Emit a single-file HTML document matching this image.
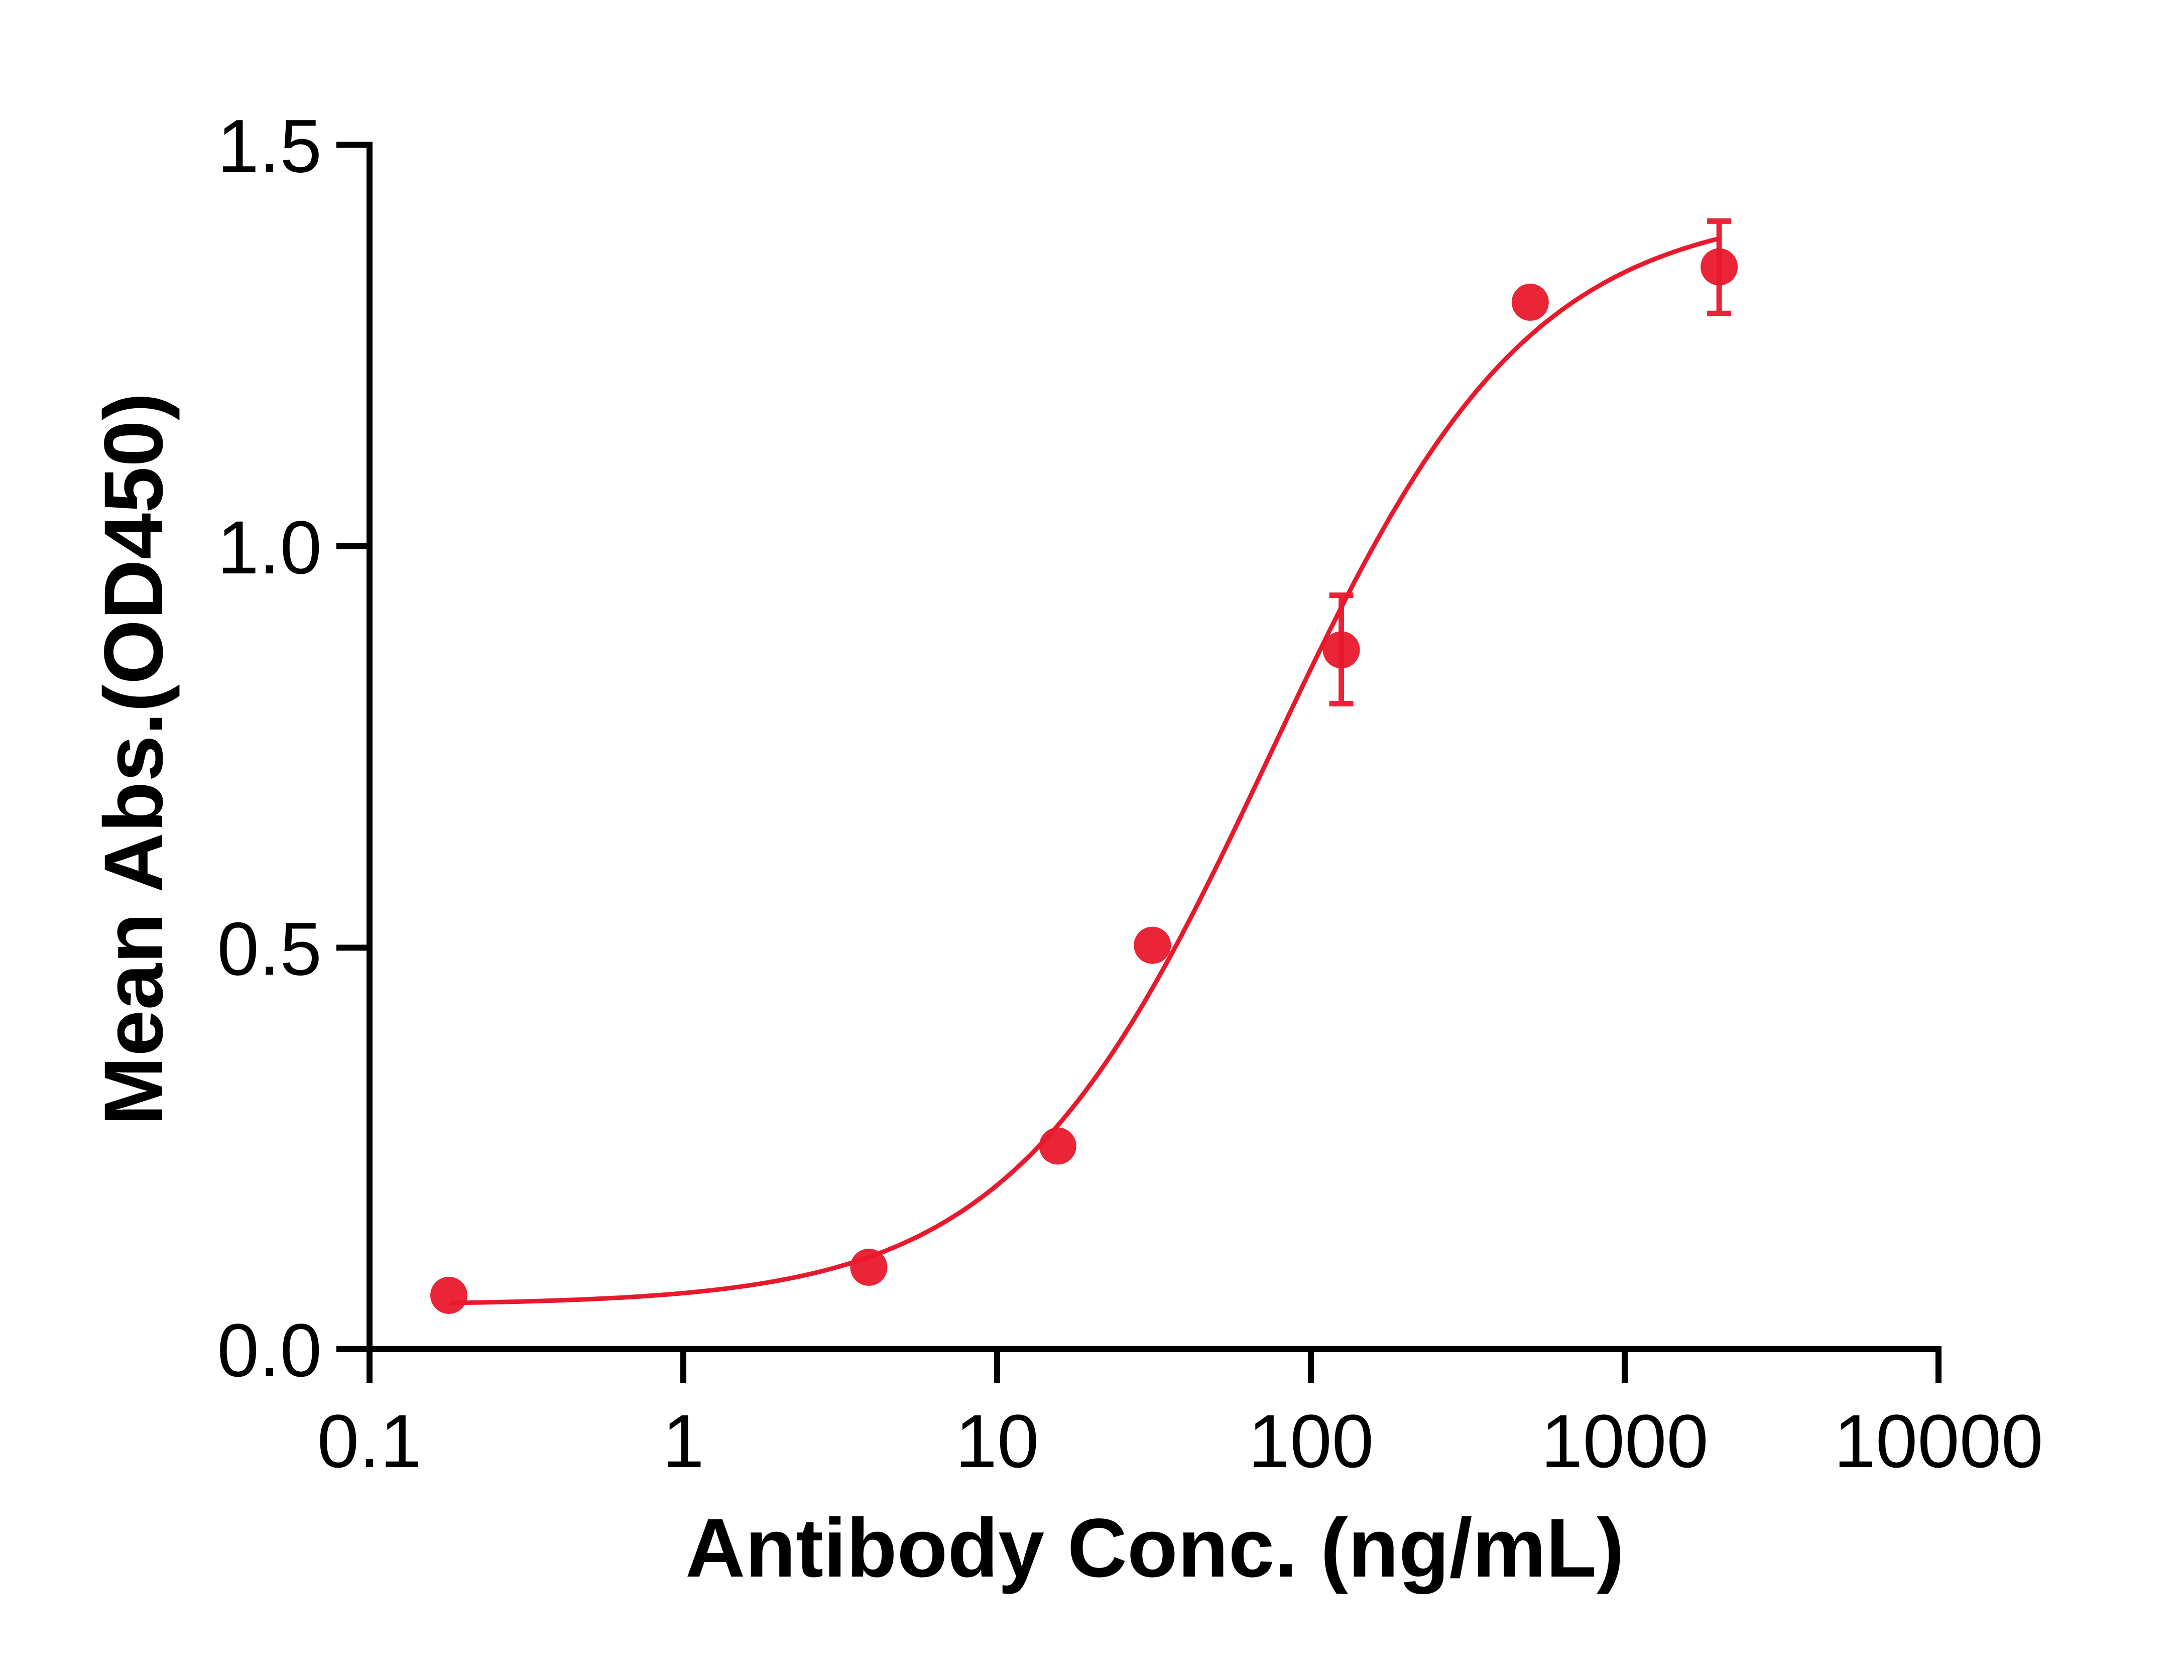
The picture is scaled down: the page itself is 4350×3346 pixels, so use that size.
<!DOCTYPE html>
<html><head><meta charset="utf-8"><style>html,body{margin:0;padding:0;background:#fff}svg{display:block}</style></head>
<body>
<svg id="chart" width="4350" height="3346" viewBox="0 0 4350 3346" xmlns="http://www.w3.org/2000/svg" font-family="Liberation Sans, Arial, sans-serif">
<rect width="4350" height="3346" fill="#fff"/>
<g id="axes"></g>
<g id="plot"></g>
<text x="2300" y="3140" font-size="166" font-weight="bold" text-anchor="middle" textLength="1870" lengthAdjust="spacingAndGlyphs">Antibody Conc. (ng/mL)</text>
<text transform="translate(323,1512) rotate(-90)" font-size="166" font-weight="bold" text-anchor="middle" textLength="1460" lengthAdjust="spacingAndGlyphs">Mean Abs.(OD450)</text>
</svg>
<script>
const concentrations = [0.179, 3.9, 15.6, 31.25, 125, 500, 2000];
const meanAbs = [0.067, 0.102, 0.253, 0.503, 0.871, 1.304, 1.348];
const errUpper = [0.067, 0.102, 0.253, 0.503, 0.939, 1.304, 1.405];
const errLower = [0.067, 0.102, 0.253, 0.503, 0.804, 1.304, 1.290];
const xTicks = [0.1, 1, 10, 100, 1000, 10000];
const xTickLabels = ["0.1", "1", "10", "100", "1000", "10000"];
const yTicks = [0, 0.5, 1.0, 1.5];
const yTickLabels = ["0.0", "0.5", "1.0", "1.5"];
const fitParams = [0.055, 1.425, 74, 1.05]; // bottom, top, EC50, hill

const NS = "http://www.w3.org/2000/svg";
const X0 = 736, DEC = 625, Y0 = 2687, YU = 1599;
function xs(v){ return X0 + (Math.log10(v) + 1) * DEC; }
function ys(v){ return Y0 - v * YU; }
function mk(tag, attrs, parent){ const e = document.createElementNS(NS, tag); for (const k in attrs) e.setAttribute(k, attrs[k]); parent.appendChild(e); return e; }

const axes = document.getElementById('axes');
const plot = document.getElementById('plot');
const xEnd = xs(xTicks[xTicks.length-1]), yTop = ys(yTicks[yTicks.length-1]);

let ax = mk('line', {x1: X0 - 6, y1: Y0, x2: xEnd + 6, y2: Y0, stroke: '#000', 'stroke-width': 12}, axes);


let ay = mk('line', {x1: X0, y1: Y0 + 6, x2: X0, y2: yTop - 6, stroke: '#000', 'stroke-width': 12}, axes);



xTicks.forEach((t, i) => {
  const x = xs(t);
  const tk = mk('line', {x1: x, y1: Y0, x2: x, y2: Y0 + 67, stroke: '#000', 'stroke-width': 12}, axes);
  
  
  const tl = mk('text', {x: x, y: 2922, 'font-size': 150, 'text-anchor': 'middle'}, axes);
  
  
  tl.textContent = xTickLabels[i];
});
yTicks.forEach((t, i) => {
  const y = ys(t);
  const tk = mk('line', {x1: X0 - 66, y1: y, x2: X0, y2: y, stroke: '#000', 'stroke-width': 12}, axes);
  
  
  const tl = mk('text', {x: 641, y: y + 54, 'font-size': 150, 'text-anchor': 'end'}, axes);
  
  
  tl.textContent = yTickLabels[i];
});

// fitted 4PL curve
function fit(c){ const [b, t, ec, h] = fitParams; const r = Math.pow(c/ec, h); return b + (t - b) * r / (1 + r); }
const lo = Math.log10(concentrations[0]), hi = Math.log10(concentrations[concentrations.length-1]);
let d = '';
for (let i = 0; i <= 300; i++) {
  const c = Math.pow(10, lo + (hi - lo) * i / 300);
  d += (i ? 'L' : 'M') + xs(c).toFixed(1) + ',' + ys(fit(c)).toFixed(1);
}
const curve = mk('path', {d: d, fill: 'none', stroke: '#e8192c', 'stroke-width': 9}, plot);



concentrations.forEach((c, i) => {
  const x = xs(c);
  if (errUpper[i] - errLower[i] > 0.01) {
    const g = mk('g', {stroke: '#e8192c', 'stroke-width': 11, opacity: 0.95}, plot);
    
    
    mk('line', {x1: x, y1: ys(errUpper[i]), x2: x, y2: ys(errLower[i])}, g);
    mk('line', {x1: x - 24, y1: ys(errUpper[i]), x2: x + 24, y2: ys(errUpper[i])}, g);
    mk('line', {x1: x - 24, y1: ys(errLower[i]), x2: x + 24, y2: ys(errLower[i])}, g);
  }
  const p = mk('circle', {cx: x, cy: ys(meanAbs[i]), r: 37, fill: '#e8192c', 'fill-opacity': 0.95}, plot);
  
  
});
</script>
</body></html>
